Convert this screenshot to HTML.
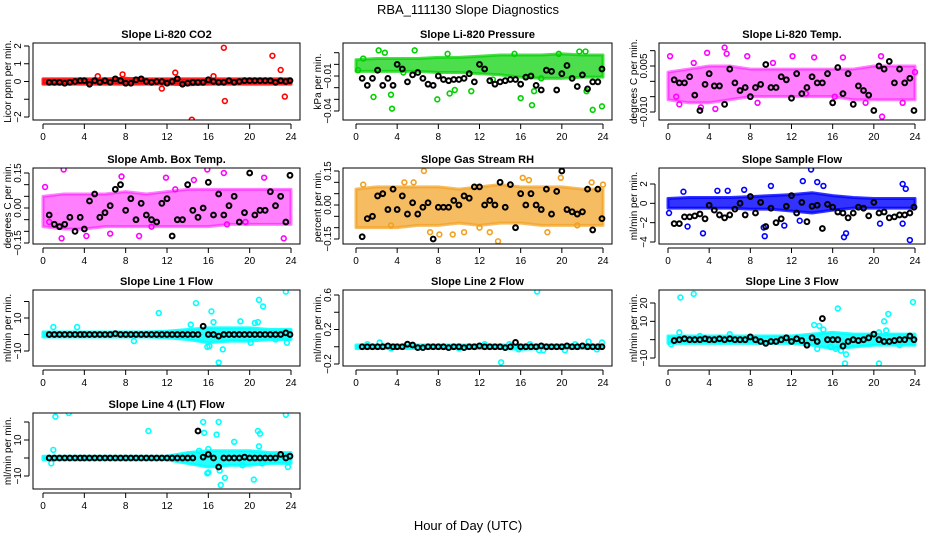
<!DOCTYPE html>
<html><head><meta charset="utf-8"><style>
html,body{margin:0;padding:0;background:#fff;}
svg{display:block;font-family:"Liberation Sans",sans-serif;}
</style></head><body>
<svg id="chart" width="936" height="540" viewBox="0 0 936 540" xmlns="http://www.w3.org/2000/svg">
<rect x="0" y="0" width="936" height="540" fill="#fff"/>
<text x="468" y="14" text-anchor="middle" font-size="13">RBA_111130  Slope Diagnostics</text>
<text x="468" y="530" text-anchor="middle" font-size="13">Hour of Day (UTC)</text>
</svg>
<script>
// shared hour categories
const blackT=[0.6,1.1,1.6,2.1,2.6,3.1,3.6,4.0,4.5,5.0,5.5,6.0,6.5,7.0,7.5,8.0,8.5,9.0,9.5,10.0,10.5,11.0,11.5,12.0,12.5,13.0,13.5,14.0,14.5,15.0,15.5,16.0,16.5,17.0,17.5,18.0,18.5,19.0,19.5,20.0,20.5,21.0,21.5,22.0,22.5,23.0,23.5,23.9];
const bandT=[0,2,4,6,8,10,12,14,16,18,20,22,24];
const xTicks=[0,4,8,12,16,20,24];

// panel 1: CO2
const co2Black=[-0.05,-0.05,-0.05,-0.1,-0.05,0,0.05,0.05,-0.15,0.05,-0.05,0.05,-0.05,0.15,0.05,-0.1,-0.1,0.1,0.15,0,-0.05,0,0,-0.1,0,0.15,-0.15,-0.1,-0.05,-0.05,-0.05,0.1,0,-0.05,-0.05,0.05,-0.05,0,0.05,0.05,0.05,0.05,0.05,0.05,-0.05,0.05,0,0.05];
const co2Lo=[-0.15,-0.15,-0.15,-0.15,-0.15,-0.15,-0.15,-0.18,-0.15,-0.15,-0.15,-0.15,-0.15];
const co2Hi=[0.15,0.15,0.15,0.15,0.18,0.15,0.15,0.15,0.15,0.15,0.15,0.15,0.15];
const co2OutT=[17.5,22.2,23,12.8,17.6,23.4,14.4,7.7,5.3,11.5,16.5];
const co2OutV=[1.9,1.45,0.65,0.5,-1.1,-0.85,-2.15,0.4,0.3,-0.4,0.3];
// panel 2: pressure
const presBlack=[-0.012,-0.018,-0.012,-0.005,-0.018,-0.012,-0.018,0.0,-0.004,-0.015,-0.009,-0.007,-0.012,-0.017,-0.018,-0.01,-0.013,-0.014,-0.013,-0.013,-0.012,-0.008,-0.015,0.0,-0.004,-0.014,-0.017,-0.015,-0.014,-0.013,-0.013,-0.017,-0.011,-0.01,-0.018,-0.022,-0.005,-0.006,-0.022,-0.008,-0.001,-0.012,-0.019,-0.009,-0.021,-0.015,-0.015,-0.004];
const presLo=[-0.006,-0.006,-0.006,-0.006,-0.007,-0.007,-0.008,-0.009,-0.011,-0.012,-0.012,-0.011,-0.011];
const presHi=[0.004,0.005,0.005,0.005,0.006,0.006,0.007,0.008,0.008,0.008,0.009,0.008,0.008];
const presOutT=[2.2,2.8,5.7,8.9,1.7,3.4,3.5,7.9,9.1,9.6,11.2,16,17.1,17.3,21.7,22.3,22.4,23,23.9,0.2,0.7,4.6,15.4,19.7,13.3,18];
const presOutV=[0.012,0.01,0.012,0.009,-0.028,-0.026,-0.038,-0.03,-0.025,-0.022,-0.023,-0.029,-0.035,-0.023,0.011,0.011,-0.023,-0.039,-0.036,-0.005,0.005,-0.007,0.009,0.009,-0.013,-0.012];
// panel 3: Li-820 temp
const tempBlack=[0.0005,-0.0005,-0.0005,0.0015,-0.0045,-0.0095,-0.001,0.0025,-0.0015,-0.0015,-0.0075,0.004,-0.0005,-0.003,-0.002,-0.005,-0.002,-0.001,0.0055,-0.002,-0.002,0.0015,0.0005,-0.0055,0.0025,-0.004,-0.002,0.0015,-0.0005,-0.0005,0.0025,-0.007,0.0045,-0.004,0.0025,-0.0075,-0.0015,-0.003,-0.0045,-0.0095,0.005,0.004,0.0065,-0.0005,0.004,-0.0005,0.001,-0.0095];
const tempLo=[-0.006,-0.007,-0.007,-0.006,-0.005,-0.005,-0.005,-0.005,-0.005,-0.006,-0.006,-0.006,-0.006];
const tempHi=[0.003,0.004,0.005,0.005,0.004,0.004,0.004,0.004,0.004,0.004,0.005,0.005,0.005];
const tempOutT=[0.2,3.8,5.5,5.7,7.7,14.2,17,20.7,1.1,3.2,4.6,8.7,19.2,20.8,12.1,2.5,22.8,24,0.8,16.2,10.2,13.4];
const tempOutV=[0.0082,0.0093,0.011,0.009,0.0082,0.0078,0.0078,0.0082,-0.0075,-0.0085,-0.009,-0.007,-0.007,-0.0115,0.0082,0.006,-0.007,0.003,-0.005,-0.005,0.006,-0.004];
// panel 4: amb box temp
const ambBlack=[-0.03,-0.07,-0.08,-0.07,-0.04,-0.1,-0.04,-0.09,0.03,0.06,-0.04,-0.02,0.01,0.08,0.1,-0.01,0.04,-0.05,0.02,-0.03,-0.05,-0.06,0.02,0.04,-0.12,-0.05,-0.05,0.1,-0.01,-0.04,0,0.11,-0.03,0.06,-0.03,0.01,0.05,-0.06,-0.02,0.15,-0.03,-0.01,-0.01,0.07,0.01,0.05,-0.06,0.14];
const ambLo=[-0.08,-0.09,-0.09,-0.08,-0.08,-0.08,-0.08,-0.08,-0.08,-0.07,-0.07,-0.07,-0.07];
const ambHi=[0.05,0.06,0.06,0.06,0.07,0.06,0.07,0.08,0.08,0.08,0.08,0.08,0.08];
const ambOutT=[2,7.6,15.9,17.5,21.4,11.9,0.2,4.2,1.8,9.3,10.5,23.3,17.8,6.5,0.6,14.6,12.8,19.6];
const ambOutV=[0.165,0.135,0.165,0.15,0.13,0.13,0.09,-0.12,-0.13,-0.12,-0.08,-0.13,-0.07,-0.11,-0.06,0.12,0.08,-0.06];
// panel 5: gas stream RH
const rhBlack=[-0.14,-0.06,-0.05,0.04,0.05,-0.02,0.07,-0.02,0.04,-0.04,0.01,-0.04,-0.01,0.01,-0.15,-0.01,-0.01,-0.01,0.02,0,0.04,0.03,0.08,0.08,0,0.02,0,0.1,-0.01,0.09,-0.1,0.05,0,0.05,0,-0.02,0.07,-0.04,0.06,0.15,-0.02,-0.03,-0.04,-0.03,0.07,-0.11,0.07,-0.06];
const rhLo=[-0.1,-0.1,-0.1,-0.09,-0.09,-0.08,-0.09,-0.08,-0.08,-0.09,-0.09,-0.09,-0.09];
const rhHi=[0.07,0.08,0.08,0.08,0.08,0.07,0.08,0.09,0.08,0.08,0.08,0.07,0.07];
const rhOutT=[6.6,13.8,8.1,9.4,10.5,7.2,13,16.2,16.8,19.9,0.7,5.6,4.7,22.9,24,18.6,3.4,12,21.5];
const rhOutV=[0.15,-0.16,-0.13,-0.13,-0.12,-0.12,-0.12,0.12,0.11,0.12,0.09,0.1,0.1,0.1,0.09,-0.12,-0.09,-0.1,-0.09];
// panel 6: sample flow
const sfBlack=[-2.1,-2.1,-1.4,-1.4,-1.3,-1.1,-1.6,-0.2,-0.7,-1.2,-1.5,-1.2,-0.6,0,-1.2,0.7,-1.0,0.1,-2.4,-0.5,-2.0,-1.6,-0.3,0.8,-1.0,0.1,-1.9,-0.3,-0.2,-2.6,-0.1,-0.4,-0.9,-1.0,-1.5,-1.0,-0.4,-0.5,-1.3,0.1,-1.0,-0.9,-1.5,-1.4,-1.2,-1.2,-1.0,-0.4];
const sfLo=[-0.5,-0.5,-0.5,-0.5,-0.6,-0.6,-0.8,-1.0,-0.7,-0.5,-0.5,-0.5,-0.5];
const sfHi=[0.5,0.6,0.6,0.6,0.7,0.8,0.9,1.1,0.8,0.6,0.5,0.5,0.5];
const sfOutT=[13.9,13.1,14.5,15.1,22.8,23.1,10,9.3,9.4,3.4,17.1,17.3,23.5,22.8,1.9,11.3,20.6,4.8,5.8,7.4,0.1,1.5,12.8];
const sfOutV=[3.5,2.3,2.2,1.8,2.0,1.5,1.8,-2.5,-3.4,-3.1,-3.5,-3.1,-3.8,-2.1,-2.4,-2.3,-2.1,1.3,1.3,1.4,-1.0,1.2,-1.8];
// panel 7: line 1 flow
const l1Black=[0,0,0,0,0,0,0,0,0,0,0,0,0,0.5,0,0,0,0,0,0,0,0,0,0,0,0,0,0,0,0,5,0,0,-1,0,0,0,0,0,0,0,0,0,0,0,0,1,0];
const l1Lo=[-1.5,-1.5,-1.5,-1.5,-1.5,-1.5,-2,-3,-5,-4,-4,-3,-3];
const l1Hi=[1.5,1.5,1.5,1.5,1.5,1.5,2,3,4,4,4,3,3];
const l1OutT=[11.2,14.8,16.3,20.9,21.3,23.5,16.5,19.1,20.5,20.8,17,16.1,15.9,17.4,20.1,23.6,1,3.3,14.3,22.5,8.8];
const l1OutV=[13,19,14,21,17,26,7.5,8,7,7.5,-17,-7,-7.5,-9,-5,-5,4.5,4.5,6,-3,-4];
// panel 8: line 2 flow
const l2Black=[0,0,0,0,0,0.01,0,0,0,0.03,0.02,-0.01,-0.01,0,0,0,0,-0.01,0,0,-0.01,0,0,0.01,0,0,0,0,-0.01,0,0.05,0,0,0,0,0.01,0,0,0,0,0.01,0,0,0.01,0,0,0,0];
const l2Lo=[-0.02,-0.02,-0.02,-0.02,-0.02,-0.02,-0.02,-0.02,-0.03,-0.02,-0.02,-0.02,-0.02];
const l2Hi=[0.02,0.02,0.02,0.02,0.02,0.02,0.02,0.02,0.02,0.02,0.02,0.02,0.02];
const l2OutT=[17.6,14.1,2.3,1.1,12.5,14.9,16.9,21.3,22.6,23.9,17.8,20.3,23.4,3.4,10,15.8,18.2];
const l2OutV=[0.64,-0.18,0.05,0.03,0.03,0.03,0.03,0.03,0.06,0.05,-0.04,-0.04,-0.03,-0.02,-0.02,-0.03,-0.04];
// panel 9: line 3 flow
const l3Black=[-0.5,0,0.5,0,0,0,0.5,0,0,0.5,0,0.5,0,0,0,1.5,0,-1,-2,-1,-1,0,1,-1,0.5,-0.5,-3,1,-1,11.5,0,0,0,-3.5,-1,0,-0.5,0,1,3,0,-1,-1,-0.5,0,0,2,0];
const l3Lo=[-2,-2,-2,-2,-2,-2,-2,-3,-5,-4,-3,-3,-3];
const l3Hi=[2,2,2,2,2,2,2,3,4,3,3,3,3];
const l3OutT=[1.2,2.5,16.5,21.4,21,23.8,14.2,14.7,15.1,20.5,21.2,17.2,20.5,16.8,16.3,17.3,15.8,1.1,3.1,6,14.5,22.5,0.3];
const l3OutV=[23,25,17,14,10,20.5,8,7.5,5.5,4,5,-13,-13,-6,-5,-8,-4,4,2,3,-5,-3,-2.5];
// panel 10: line 4 flow
const l4Black=[0,0,0,0,0,0,0,0,0,0,0,0,0,0,0,0,0,0,0,0,0,0,0,0,0,0,0,0,0,15,0.5,2,0,-5,0,0,0,0,0.5,0,0,0,0,0,0,2,0,1];
const l4Lo=[-1,-1,-1,-1,-1,-1,-1,-3,-5,-4,-4,-3,-3];
const l4Hi=[1,1,1,1,1,1,1,3,4,4,4,3,3];
const l4OutT=[1.2,2.5,10.2,15.6,16.8,17,15.5,20.8,21,23.5,18.5,20.9,1,15.1,16,16,15.9,17.1,17.6,17.2,20.4,23.7,21.2,0.8,19.3];
const l4OutV=[23,25,15,14,13,20,20,15,13.5,24,9,6.5,4.5,4,5,-8,-8.5,-7,-11,-15,-12,-5,-3,-3,-4];

const cols=[{x0:33,x1:300,a:43,b:291},{x0:343,x1:612,a:356,b:603},{x0:659,x1:925,a:668,b:915}];
const rows=[{y0:43,y1:120},{y0:168,y1:244},{y0:290,y1:366},{y0:413,y1:489}];
const panels=[
 {name:'co2',title:'Slope Li-820 CO2',yl:'Licor ppm per min.',c:0,r:0,va:2,pa:46,vb:-2,pb:117,ticks:[-2,-1,0,1,2],labs:['\u22122','','0','1','2'],col:'#ff0000',op:0.85,black:co2Black,lo:co2Lo,hi:co2Hi,ot:co2OutT,ov:co2OutV},
 {name:'pressure',title:'Slope Li-820 Pressure',yl:'kPa per min.',c:1,r:0,va:0.01,pa:52.7,vb:-0.04,pb:111,ticks:[0.01,0,-0.01,-0.02,-0.03,-0.04],labs:['','','\u22120.01','','','\u22120.04'],col:'#00d000',op:0.7,black:presBlack,lo:presLo,hi:presHi,ot:presOutT,ov:presOutV},
 {name:'li820-temp',title:'Slope Li-820 Temp.',yl:'degrees C per min.',c:2,r:0,va:0.005,pa:66,vb:-0.01,pb:112,ticks:[0.01,0.005,0,-0.005,-0.01],labs:['','0.005','','','\u22120.010'],col:'#ff00ff',op:0.5,black:tempBlack,lo:tempLo,hi:tempHi,ot:tempOutT,ov:tempOutV},
 {name:'amb-box-temp',title:'Slope Amb. Box Temp.',yl:'degrees C per min.',c:0,r:1,va:0.15,pa:173,vb:-0.15,pb:243,ticks:[0.15,0.1,0.05,0,-0.05,-0.1,-0.15],labs:['0.15','','','0.00','','','\u22120.15'],col:'#ff00ff',op:0.5,black:ambBlack,lo:ambLo,hi:ambHi,ot:ambOutT,ov:ambOutV},
 {name:'gas-stream-rh',title:'Slope Gas Stream RH',yl:'percent per min.',c:1,r:1,va:0.15,pa:171,vb:-0.15,pb:239,ticks:[0.15,0.1,0.05,0,-0.05,-0.1,-0.15],labs:['0.15','','','0.00','','','\u22120.15'],col:'#f2a020',op:0.7,black:rhBlack,lo:rhLo,hi:rhHi,ot:rhOutT,ov:rhOutV},
 {name:'sample-flow',title:'Slope Sample Flow',yl:'ml/min per min.',c:2,r:1,va:2,pa:184,vb:-4,pb:242,ticks:[2,0,-2,-4],labs:['2','0','\u22122','\u22124'],col:'#0000ff',op:0.8,black:sfBlack,lo:sfLo,hi:sfHi,ot:sfOutT,ov:sfOutV},
 {name:'line1-flow',title:'Slope Line 1 Flow',yl:'ml/min per min.',c:0,r:2,va:10,pa:318,vb:-10,pb:351,ticks:[20,10,0,-10],labs:['','10','','\u221210'],col:'#00ffff',op:0.85,black:l1Black,lo:l1Lo,hi:l1Hi,ot:l1OutT,ov:l1OutV},
 {name:'line2-flow',title:'Slope Line 2 Flow',yl:'ml/min per min.',c:1,r:2,va:0.6,pa:295,vb:-0.2,pb:364,ticks:[0.6,0.4,0.2,0,-0.2],labs:['0.6','','0.2','','\u22120.2'],col:'#00ffff',op:0.85,black:l2Black,lo:l2Lo,hi:l2Hi,ot:l2OutT,ov:l2OutV},
 {name:'line3-flow',title:'Slope Line 3 Flow',yl:'ml/min per min.',c:2,r:2,va:20,pa:303,vb:-10,pb:358,ticks:[20,10,0,-10],labs:['20','10','','\u221210'],col:'#00ffff',op:0.85,black:l3Black,lo:l3Lo,hi:l3Hi,ot:l3OutT,ov:l3OutV},
 {name:'line4-flow',title:'Slope Line 4 (LT) Flow',yl:'ml/min per min.',c:0,r:3,va:10,pa:440,vb:-10,pb:476,ticks:[20,10,0,-10],labs:['','10','','\u221210'],col:'#00ffff',op:0.85,black:l4Black,lo:l4Lo,hi:l4Hi,ot:l4OutT,ov:l4OutV}
];
const NS='http://www.w3.org/2000/svg';
const svg=document.getElementById('chart');
function mk(tag,attrs,parent){const e=document.createElementNS(NS,tag);for(const k in attrs)e.setAttribute(k,attrs[k]);(parent||svg).appendChild(e);return e;}
panels.forEach(p=>{
 const C=cols[p.c],R=rows[p.r];
 const xs=t=>C.a+(C.b-C.a)*t/24;
 const ys=v=>p.pa+(p.pb-p.pa)*(v-p.va)/(p.vb-p.va);
 const g=mk('g',{});
 
 
 const clip=mk('clipPath',{id:'clip-'+p.name},g);
 mk('rect',{x:C.x0,y:R.y0,width:C.x1-C.x0,height:R.y1-R.y0},clip);
 const pg=mk('g',{'clip-path':'url(#clip-'+p.name+')'},g);
 let pts=bandT.map((t,i)=>xs(t)+','+ys(p.hi[i]));
 pts=pts.concat(bandT.slice().reverse().map((t,i)=>xs(t)+','+ys(p.lo[bandT.length-1-i])));
 const band=mk('polygon',{points:pts.join(' '),fill:p.col,'fill-opacity':p.op,stroke:p.col,'stroke-opacity':p.op,'stroke-width':3,'stroke-linejoin':'round'},pg);
 
 
 p.ot.forEach((t,i)=>{
  const c=mk('circle',{cx:xs(t),cy:ys(p.ov[i]),r:2.4,fill:'none',stroke:p.col,'stroke-width':1.6},pg);
  
  
 });
 blackT.forEach((t,i)=>{
  const c=mk('circle',{cx:xs(t),cy:ys(p.black[i]),r:2.4,fill:'none',stroke:'#000','stroke-width':2},pg);
  
  
 });
 const box=mk('rect',{x:C.x0,y:R.y0,width:C.x1-C.x0,height:R.y1-R.y0,fill:'none',stroke:'#000','stroke-width':1},g);
 
 
 const tt=mk('text',{x:(C.x0+C.x1)/2,y:R.y0-5,'text-anchor':'middle','font-size':11,'font-weight':'bold'},g);
 tt.textContent=p.title;
 
 
 mk('line',{x1:xs(0),x2:xs(24),y1:R.y1+4,y2:R.y1+4,stroke:'#000'},g);
 xTicks.forEach(t=>{
  mk('line',{x1:xs(t),x2:xs(t),y1:R.y1+4,y2:R.y1+9,stroke:'#000'},g);
  const l=mk('text',{x:xs(t),y:R.y1+20,'text-anchor':'middle','font-size':10},g);
  l.textContent=t;
  
  
 });
 const tv=p.ticks.map(ys);
 mk('line',{x1:C.x0-4,x2:C.x0-4,y1:Math.min(...tv),y2:Math.max(...tv),stroke:'#000'},g);
 p.ticks.forEach((v,i)=>{
  const y=ys(v);
  mk('line',{x1:C.x0-9,x2:C.x0-4,y1:y,y2:y,stroke:'#000'},g);
  if(p.labs[i]){
   const l=mk('text',{x:C.x0-12,y:y,'text-anchor':'middle','font-size':10,transform:'rotate(-90 '+(C.x0-12)+' '+y+')'},g);
   l.textContent=p.labs[i];
   
   
  }
 });
 const yl=mk('text',{x:C.x0-22,y:(R.y0+R.y1)/2,'text-anchor':'middle','font-size':10,transform:'rotate(-90 '+(C.x0-22)+' '+((R.y0+R.y1)/2)+')'},g);
 yl.textContent=p.yl;
 
 
});
</script>
</body></html>
